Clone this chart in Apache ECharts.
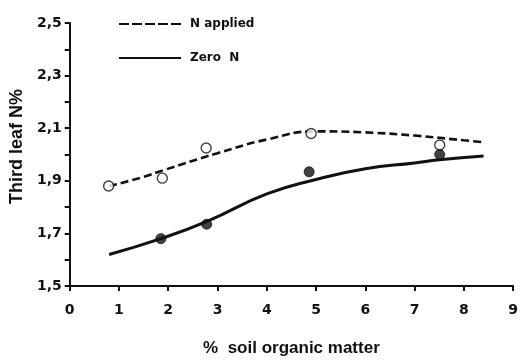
<!DOCTYPE html>
<html>
<head>
<meta charset="utf-8">
<script src="https://cdn.jsdelivr.net/npm/echarts@6/dist/echarts.min.js"></script>
<style>
  html, body { margin: 0; padding: 0; background: #fff; }
  #chart { width: 521px; height: 362px; }
</style>
</head>
<body>
<div id="chart"></div>
<script>
// Fitted response curves (soil organic matter %, third leaf N %)
const curveNApplied = [[0.8, 1.88], [1.5, 1.915], [1.9, 1.94], [3, 2.005], [4, 2.057], [5, 2.088], [6, 2.084], [7, 2.072], [8, 2.054], [8.4, 2.047]];
const curveZeroN = [[0.8, 1.62], [1.85, 1.68], [2.8, 1.747], [4, 1.85], [5, 1.905], [6, 1.946], [7, 1.968], [7.5, 1.98], [8.4, 1.994]];

// Observed means
const obsNApplied = [[0.79, 1.88], [1.88, 1.91], [2.77, 2.025], [4.9, 2.08], [7.51, 2.036]];
const obsZeroN = [[1.85, 1.68], [2.78, 1.735], [4.86, 1.934], [7.51, 2.0]];

const xTicks = { min: 0, max: 9, interval: 1 };
const yTicks = { min: 1.5, max: 2.5, interval: 0.2 };

const seriesNames = ['N applied', 'Zero  N'];

const titleFont = 'Liberation Sans, Arial, sans-serif';
const labelFont = 'DejaVu Sans, sans-serif';
const ink = '#111';

const chart = echarts.init(document.getElementById('chart'), null, { renderer: 'canvas' });
chart.setOption({
  backgroundColor: '#fff',
  animation: false,
  grid: { left: 68, right: -2, top: 23, bottom: 72, containLabel: false },
  legend: {
    data: [
      { name: seriesNames[0], lineStyle: { type: [10, 3] } },
      { name: seriesNames[1] }
    ],
    orient: 'vertical',
    left: 118, top: 18, padding: 0,
    itemWidth: 62, itemHeight: 14, itemGap: 22,
    itemStyle: { opacity: 0 },
    textStyle: { fontFamily: labelFont, fontWeight: 'bold', fontSize: 12, color: ink, padding: [0, 0, 0, 4] }
  },
  xAxis: {
    type: 'value',
    min: xTicks.min, max: xTicks.max, interval: xTicks.interval,
    name: '%  soil organic matter',
    nameLocation: 'middle', nameGap: 54,
    nameTextStyle: { fontFamily: titleFont, fontWeight: 'bold', fontSize: 17, color: ink },
    axisLine: { show: true, onZero: false, lineStyle: { color: ink, width: 2 } },
    axisTick: { show: true, inside: false, length: 5, lineStyle: { color: ink, width: 2 } },
    axisLabel: { margin: 17, fontFamily: labelFont, fontWeight: 'bold', fontSize: 14, color: ink },
    splitLine: { show: false }
  },
  yAxis: {
    type: 'value',
    min: yTicks.min, max: yTicks.max, interval: yTicks.interval,
    name: 'Third leaf N%',
    nameLocation: 'middle', nameGap: 39, nameRotate: 90,
    nameTextStyle: { fontFamily: titleFont, fontWeight: 'bold', fontSize: 18, color: ink, padding: [0, 0, 0, 16] },
    axisLine: { show: true, onZero: false, lineStyle: { color: ink, width: 2 } },
    axisTick: { show: true, length: 5, lineStyle: { color: ink, width: 2 } },
    minorTick: { show: true, splitNumber: 2, length: 5, lineStyle: { color: ink, width: 2 } },
    axisLabel: {
      margin: 8, fontFamily: labelFont, fontWeight: 'bold', fontSize: 14, color: ink,
      formatter: v => v.toFixed(1).replace('.', ',')
    },
    splitLine: { show: false }
  },
  series: [
    {
      name: seriesNames[0], type: 'line', data: curveNApplied, smooth: 0.5,
      symbol: 'none', z: 2,
      lineStyle: { color: ink, width: 2.6, type: [8, 4] },
      itemStyle: { color: ink }
    },
    {
      name: seriesNames[1], type: 'line', data: curveZeroN, smooth: 0.5,
      symbol: 'none', z: 2,
      lineStyle: { color: ink, width: 3, type: 'solid' },
      itemStyle: { color: ink }
    },
    {
      name: 'N applied means', type: 'scatter', data: obsNApplied,
      symbol: 'circle', symbolSize: 10, z: 3,
      itemStyle: { color: '#fff', borderColor: ink, borderWidth: 1.4 }
    },
    {
      name: 'Zero N means', type: 'scatter', data: obsZeroN,
      symbol: 'circle', symbolSize: 10, z: 3,
      itemStyle: { color: ink, borderColor: ink, borderWidth: 1 }
    }
  ]
});
</script>
</body>
</html>
